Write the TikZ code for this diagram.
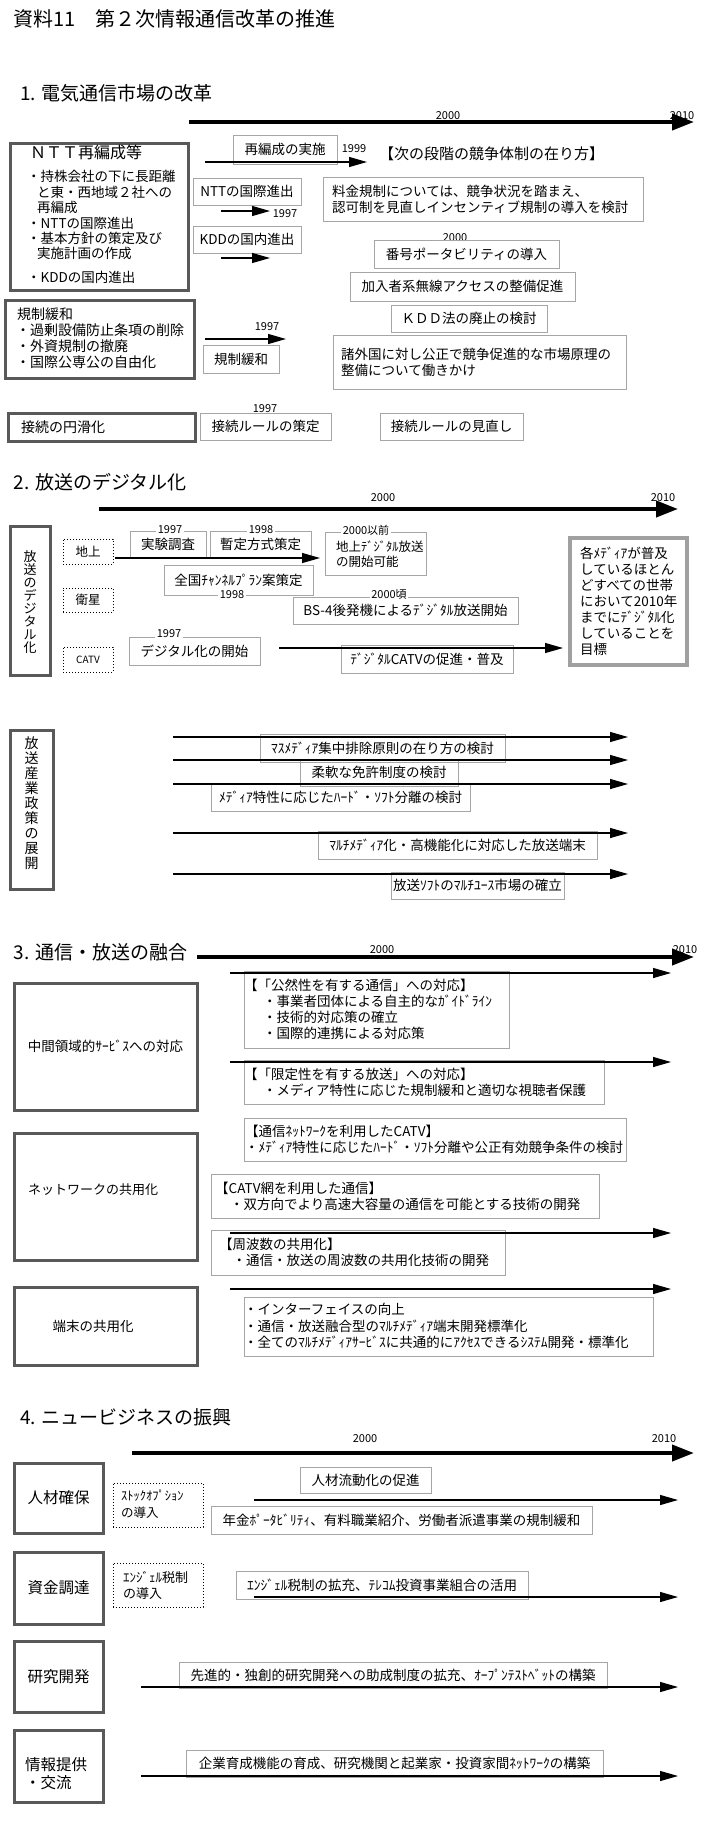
\documentclass[tikz,border=0pt]{standalone}
\usepackage{fontspec}
\setmainfont{Noto Sans CJK JP}
\usetikzlibrary{arrows.meta}
\definecolor{tgray}{HTML}{595959}
\definecolor{lgray}{HTML}{A6A6A6}
\definecolor{mgray}{HTML}{A0A0A0}
\newcommand\fsz[1]{\fontsize{#1}{#1}\selectfont}
\tikzset{
 gbox/.style={draw=lgray, line width=1pt, inner sep=1pt, font=\fsz{13.5}},
 tbox/.style={draw=tgray, line width=3pt, inner sep=1pt, font=\fsz{15}},
 dbox/.style={draw=black, line width=0.9pt, dash pattern=on 1pt off 2pt, inner sep=1pt, font=\fsz{12.5}},
 txt/.style={inner sep=0pt, font=\fontsize{13.5}{16}\selectfont},
 yr/.style={inner sep=0pt, font=\fsz{11}},
 yrw/.style={yr, fill=white, inner xsep=1.5pt, inner ysep=0.5pt},
 hd/.style={inner sep=0pt, font=\fsz{19}, anchor=west},
 arr/.style={line width=1.2pt, -{Triangle[length=18pt,width=10pt]}},
 tl/.style={line width=4pt, -{Triangle[length=22pt,width=16pt]}},
 vtxt/.style={inner sep=0pt, align=center},
}
\newcommand\bx[8][]{\node[#2,minimum width={#6-#4},minimum height={#7-#5},#1] (#3) at ({(#4+#6)/2},{(#5+#7)/2}) {#8};}
\newcommand\bxl[9][]{\bx[#1]{#2}{#3}{#4}{#5}{#6}{#7}{}\node[txt,anchor=west,align=left] (#3t) at ({#4+#8},{(#5+#7)/2}) {#9};}
\begin{document}
\begin{tikzpicture}[x=1pt,y=-1pt]
\fill[white] (0,0) rectangle (702,1821);
\useasboundingbox (0,0) rectangle (702,1821);

% ---------- title
\node[inner sep=0pt, font=\fsz{20}, anchor=west] (title) at (13,18.5) {資料11　第２次情報通信改革の推進};

% ========== Section 1
\node[hd] (h1) at (20,93) {1. 電気通信市場の改革};
\node[yr] (y1a) at (448,116) {2000};
\node[yr] (y1b) at (682,116) {2010};
\coordinate (t1s) at (189,122); \coordinate (t1e) at (694,122);
\draw[tl] (t1s) -- (t1e);

\bx{tbox}{ntt}{10}{143}{188}{290}{}
\node[txt,anchor=west,font=\fsz{16}] (ntt0) at (30,152) {ＮＴＴ再編成等};
\node[txt,anchor=west] (ntt1) at (27,176) {・持株会社の下に長距離};
\node[txt,anchor=west] (ntt2) at (37,192) {と東・西地域２社への};
\node[txt,anchor=west] (ntt3) at (37,207) {再編成};
\node[txt,anchor=west] (ntt4) at (27,223) {・NTTの国際進出};
\node[txt,anchor=west] (ntt5) at (27,238) {・基本方針の策定及び};
\node[txt,anchor=west] (ntt6) at (37,253) {実施計画の作成};
\node[txt,anchor=west] (ntt7) at (27,277) {・KDDの国内進出};

\bx{gbox}{saihen}{233}{135}{337}{164}{再編成の実施}
\node[yr] (y1999) at (354,149) {1999};
\node[txt,anchor=west,font=\fsz{15}] (next) at (379,154) {【次の段階の競争体制の在り方】};
\bx{gbox}{nttk}{193}{178}{301}{205}{NTTの国際進出}
\node[yr] (y1997a) at (285,214) {1997};
\bx{gbox}{kdd}{193}{226}{301}{253}{KDDの国内進出}
\bxl{gbox}{ryokin}{323}{177}{643}{221}{9}{料金規制については、競争状況を踏まえ、\\認可制を見直しインセンティブ規制の導入を検討}
\node[yr] (y2000a) at (455,238) {2000};
\bx{gbox}{bango}{374}{240}{559}{268}{番号ポータビリティの導入}
\bx{gbox}{kanyu}{350}{272}{575}{301}{加入者系無線アクセスの整備促進}
\bx{gbox}{kddho}{391}{305}{547}{332}{ＫＤＤ法の廃止の検討}

\bx{tbox}{kisei}{5}{300}{194}{378}{}
\node[txt,anchor=west,font=\fsz{14}] (kis0) at (17,314) {規制緩和};
\node[txt,anchor=west,font=\fsz{14}] (kis1) at (16,330) {・過剰設備防止条項の削除};
\node[txt,anchor=west,font=\fsz{14}] (kis2) at (16,346) {・外資規制の撤廃};
\node[txt,anchor=west,font=\fsz{14}] (kis3) at (16,362) {・国際公専公の自由化};
\node[yr] (y1997b) at (267,327) {1997};
\bx{gbox}{kiseib}{203}{345}{279}{373}{規制緩和}
\bxl{gbox}{shogai}{333}{335}{626}{389}{8}{諸外国に対し公正で競争促進的な市場原理の\\整備について働きかけ}

\bx{tbox}{setsu}{8}{413}{195}{441}{}
\node[txt,anchor=west,font=\fsz{14}] (setsut) at (21,427) {接続の円滑化};
\bx{gbox}{rule1}{200}{413}{331}{440}{接続ルールの策定}
\bx{gbox}{rule2}{380}{413}{523}{440}{接続ルールの見直し}
\node[yr] (y1997c) at (265,409) {1997};

\coordinate (a1s) at (205,162); \coordinate (a1e) at (367,162);
\coordinate (a2s) at (221,211); \coordinate (a2e) at (270,211);
\coordinate (a3s) at (221,258); \coordinate (a3e) at (270,258);
\coordinate (a4s) at (205,339); \coordinate (a4e) at (286,339);
\draw[arr] (a1s) -- (a1e);
\draw[arr] (a2s) -- (a2e);
\draw[arr] (a3s) -- (a3e);
\draw[arr] (a4s) -- (a4e);

% ========== Section 2
\node[hd] (h2) at (13.5,482) {2. 放送のデジタル化};
\node[yr] (y2a) at (383,498) {2000};
\node[yr] (y2b) at (663,498) {2010};
\coordinate (t2s) at (99,509); \coordinate (t2e) at (678,509);
\draw[tl] (t2s) -- (t2e);

\bx{tbox}{dig}{10}{526}{50}{675}{}
\node[vtxt,font=\fontsize{13}{13.1}\selectfont] (digt) at (30,602) {放\\送\\の\\デ\\ジ\\タ\\ル\\化};

\bx{dbox}{chijo}{63}{539}{113}{564}{地上}
\bx{dbox}{eisei}{63}{588}{113}{612}{衛星}
\bx[font=\fsz{10}]{dbox}{catv}{63}{647}{113}{672}{CATV}

\bx{gbox}{jikken}{130}{531}{206}{558}{実験調査}
\bx{gbox}{zantei}{210}{531}{311}{558}{暫定方式策定}
\bx{gbox}{chidig}{325}{532}{426}{575}{}
\node[anchor=west,align=left,inner sep=0pt,font=\fontsize{12.5}{15}\selectfont] (chidigt) at (336,554) {地上ﾃﾞｼﾞﾀﾙ放送\\の開始可能};
\bx{gbox}{zenkoku}{164}{565}{313}{595}{全国ﾁｬﾝﾈﾙﾌﾟﾗﾝ案策定}
\bx{gbox}{bs4}{293}{597}{518}{624}{BS-4後発機によるﾃﾞｼﾞﾀﾙ放送開始}
\bxl[draw=mgray,line width=3.5pt]{gbox}{mokuhyo}{570}{538}{687}{665}{10}{各ﾒﾃﾞｨｱが普及\\しているほとん\\どすべての世帯\\において2010年\\までにﾃﾞｼﾞﾀﾙ化\\していることを\\目標}
\bx{gbox}{dkaishi}{129}{637}{260}{665}{デジタル化の開始}
\bx{gbox}{dcatv}{341}{645}{513}{673}{ﾃﾞｼﾞﾀﾙCATVの促進・普及}

\coordinate (a5s) at (115,558); \coordinate (a5e) at (320,558);
\coordinate (a6s) at (279,648); \coordinate (a6e) at (563,648);
\draw[arr] (a5s) -- (a5e);
\draw[arr] (a6s) -- (a6e);

\node[yrw] (y1997d) at (170,530) {1997};
\node[yrw] (y1998a) at (261,530) {1998};
\node[yrw] (y2000b) at (366,530) {2000以前};
\node[yrw] (y1998b) at (232,595) {1998};
\node[yrw] (y2000c) at (389,594) {2000頃};
\node[yrw] (y1997e) at (169,634) {1997};

% ---------- broadcasting industry policy
\bx{tbox}{sangyo}{10}{730}{53}{889}{}
\node[vtxt,font=\fontsize{14}{15}\selectfont] (sangyot) at (31.5,803) {放\\送\\産\\業\\政\\策\\の\\展\\開};

\bx{gbox}{masu}{260}{734}{505}{762}{ﾏｽﾒﾃﾞｨｱ集中排除原則の在り方の検討}
\bx{gbox}{junan}{300}{759}{458}{786}{柔軟な免許制度の検討}
\bx{gbox}{hard}{211}{783}{470}{811}{ﾒﾃﾞｨｱ特性に応じたﾊｰﾄﾞ・ｿﾌﾄ分離の検討}
\bx{gbox}{multi}{318}{831}{597}{859}{ﾏﾙﾁﾒﾃﾞｨｱ化・高機能化に対応した放送端末}
\bx{gbox}{soft}{391}{872}{564}{899}{放送ｿﾌﾄのﾏﾙﾁﾕｰｽ市場の確立}

\coordinate (b1s) at (173,737); \coordinate (b1e) at (628,737);
\coordinate (b2s) at (173,760); \coordinate (b2e) at (628,760);
\coordinate (b3s) at (173,784); \coordinate (b3e) at (628,784);
\coordinate (b4s) at (173,833); \coordinate (b4e) at (628,833);
\coordinate (b5s) at (173,874); \coordinate (b5e) at (628,874);
\draw[arr] (b1s) -- (b1e);
\draw[arr] (b2s) -- (b2e);
\draw[arr] (b3s) -- (b3e);
\draw[arr] (b4s) -- (b4e);
\draw[arr] (b5s) -- (b5e);

% ========== Section 3
\node[hd] (h3) at (13.5,952) {3. 通信・放送の融合};
\node[yr] (y3a) at (382,950) {2000};
\node[yr] (y3b) at (685,950) {2010};
\coordinate (t3s) at (197,957); \coordinate (t3e) at (694,957);
\draw[tl] (t3s) -- (t3e);

\bx[font=\fsz{13.5}]{tbox}{chukan}{14}{983}{197}{1110}{中間領域的ｻｰﾋﾞｽへの対応}
\bx{tbox}{netw}{14}{1133}{197}{1260}{}
\node[txt,anchor=west,font=\fsz{13}] (netwt) at (28,1190) {ネットワークの共用化};
\bx{tbox}{tanmatsu}{14}{1287}{197}{1365}{}
\node[txt,font=\fsz{13.5}] (tanmatsut) at (93,1326) {端末の共用化};

\bxl{gbox}{kozen}{244}{971}{509}{1048}{0}{【「公然性を有する通信」への対応】\\\hspace*{1.4em}・事業者団体による自主的なｶﾞｲﾄﾞﾗｲﾝ\\\hspace*{1.4em}・技術的対応策の確立\\\hspace*{1.4em}・国際的連携による対応策}
\bxl{gbox}{gentei}{244}{1060}{604}{1104}{0}{【「限定性を有する放送」への対応】\\\hspace*{1.4em}・メディア特性に応じた規制緩和と適切な視聴者保護}
\bxl{gbox}{tsunet}{244}{1118}{626}{1161}{1}{【通信ﾈｯﾄﾜｰｸを利用したCATV】\\・ﾒﾃﾞｨｱ特性に応じたﾊｰﾄﾞ・ｿﾌﾄ分離や公正有効競争条件の検討}
\bxl{gbox}{catvmo}{211}{1174}{599}{1218}{4}{【CATV網を利用した通信】\\\hspace*{1.1em}・双方向でより高速大容量の通信を可能とする技術の開発}
\bxl{gbox}{shuha}{211}{1230}{505}{1275}{8}{【周波数の共用化】\\\hspace*{1em}・通信・放送の周波数の共用化技術の開発}
\bx{gbox}{tanbox}{244}{1297}{653}{1356}{}
\node[anchor=west,align=left,inner sep=0pt,font=\fontsize{13.5}{16.5}\selectfont] (tanboxt) at (244,1326) {・インターフェイスの向上\\・通信・放送融合型のﾏﾙﾁﾒﾃﾞｨｱ端末開発標準化\\・全てのﾏﾙﾁﾒﾃﾞｨｱｻｰﾋﾞｽに共通的にｱｸｾｽできるｼｽﾃﾑ開発・標準化};

\coordinate (c1s) at (230,973); \coordinate (c1e) at (671,973);
\coordinate (c2s) at (230,1062); \coordinate (c2e) at (671,1062);
\coordinate (c3s) at (230,1233); \coordinate (c3e) at (671,1233);
\coordinate (c4s) at (230,1289); \coordinate (c4e) at (671,1289);
\draw[arr] (c1s) -- (c1e);
\draw[arr] (c2s) -- (c2e);
\draw[arr] (c3s) -- (c3e);
\draw[arr] (c4s) -- (c4e);

% ========== Section 4
\node[hd] (h4) at (20,1417) {4. ニュービジネスの振興};
\node[yr] (y4a) at (365,1439) {2000};
\node[yr] (y4b) at (664,1439) {2010};
\coordinate (t4s) at (132,1453); \coordinate (t4e) at (694,1453);
\draw[tl] (t4s) -- (t4e);

\bx[font=\fsz{15.5}]{tbox}{jinzai}{14}{1463}{103}{1533}{人材確保}
\bx{dbox}{stock}{113}{1483}{203}{1527}{}
\node[anchor=west,align=left,inner sep=0pt,font=\fontsize{12.5}{17}\selectfont] (stockt) at (121,1504) {ｽﾄｯｸｵﾌﾟｼｮﾝ\\の導入};
\bx{gbox}{ryudo}{300}{1467}{431}{1493}{人材流動化の促進}
\bx{gbox}{nenkin}{211}{1506}{592}{1534}{年金ﾎﾟｰﾀﾋﾞﾘﾃｨ、有料職業紹介、労働者派遣事業の規制緩和}

\bx[font=\fsz{15.5}]{tbox}{shikin}{14}{1552}{103}{1624}{資金調達}
\bx{dbox}{angel}{113}{1563}{203}{1607}{}
\node[anchor=west,align=left,inner sep=0pt,font=\fontsize{13}{16}\selectfont] (angelt) at (123,1585) {ｴﾝｼﾞｪﾙ税制\\の導入};
\bx{gbox}{angel2}{236}{1571}{528}{1599}{ｴﾝｼﾞｪﾙ税制の拡充、ﾃﾚｺﾑ投資事業組合の活用}

\bx[font=\fsz{15.5}]{tbox}{kenkyu}{14}{1641}{103}{1712}{研究開発}
\bx{gbox}{senshin}{179}{1662}{607}{1688}{先進的・独創的研究開発への助成制度の拡充、ｵｰﾌﾟﾝﾃｽﾄﾍﾞｯﾄの構築}

\bx{tbox}{joho}{14}{1730}{103}{1802}{}
\node[anchor=west,align=left,inner sep=0pt,font=\fontsize{15.5}{18}\selectfont] (johot) at (25,1774) {情報提供\\・交流};
\bx{gbox}{kigyo}{186}{1750}{603}{1777}{企業育成機能の育成、研究機関と起業家・投資家間ﾈｯﾄﾜｰｸの構築}

\coordinate (d1s) at (254,1500); \coordinate (d1e) at (678,1500);
\coordinate (d2s) at (254,1597); \coordinate (d2e) at (678,1597);
\coordinate (d3s) at (141,1687); \coordinate (d3e) at (678,1687);
\coordinate (d4s) at (141,1776); \coordinate (d4e) at (678,1776);
\draw[arr] (d1s) -- (d1e);
\draw[arr] (d2s) -- (d2e);
\draw[arr] (d3s) -- (d3e);
\draw[arr] (d4s) -- (d4e);
\end{tikzpicture}
\end{document}
